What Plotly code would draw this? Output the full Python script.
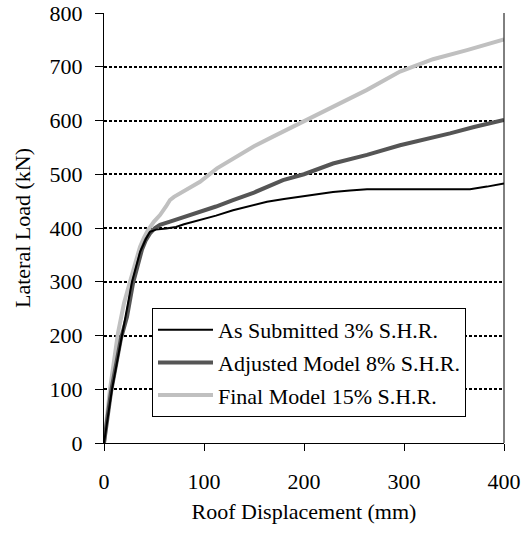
import plotly.graph_objects as go

# Pushover curves: roof displacement (mm) vs lateral load (kN)
submitted_x = [0, 8, 18, 28, 36, 42, 46, 52, 62, 72, 80, 96, 112, 129, 146, 163, 180, 196, 212, 229, 246, 263, 300, 330, 366, 383, 400]
submitted_y = [0, 100, 200, 300, 355, 380, 393, 397, 399, 402, 407, 415, 423, 433, 441, 449, 454, 458, 463, 467, 470, 472, 472, 472, 472, 477, 483]

adjusted_x = [0, 7, 17, 23, 29, 34, 38, 42, 46, 51, 56, 66, 76, 96, 112, 129, 150, 179, 200, 229, 263, 296, 330, 346, 370, 400]
adjusted_y = [0, 95, 195, 235, 297, 335, 360, 378, 390, 400, 406, 412, 418, 430, 440, 452, 466, 489, 500, 520, 536, 554, 568, 576, 588, 601]

final_x = [0, 6, 14, 20, 26, 31, 36, 40, 44, 50, 56, 62, 66, 70, 80, 96, 113, 133, 150, 169, 196, 229, 263, 296, 329, 363, 380, 400]
final_y = [0, 100, 205, 260, 300, 335, 365, 382, 396, 412, 424, 440, 452, 458, 468, 486, 511, 533, 552, 570, 595, 626, 657, 691, 714, 731, 740, 751]

series_names = ["As Submitted 3% S.H.R.", "Adjusted Model 8% S.H.R.", "Final Model 15% S.H.R."]
x_ticks = [0, 100, 200, 300, 400]
y_ticks = [0, 100, 200, 300, 400, 500, 600, 700, 800]

FONT = "Liberation Serif"
txt = dict(family=FONT, size=22, color="black")

fig = go.Figure()
fig.add_trace(go.Scatter(x=final_x, y=final_y, mode="lines", name=series_names[2],
                         line=dict(color="#c0c0c0", width=4), legendrank=3, legendgroup="c"))
fig.add_trace(go.Scatter(x=adjusted_x, y=adjusted_y, mode="lines", name=series_names[1],
                         line=dict(color="#555555", width=4), legendrank=2, legendgroup="b"))
fig.add_trace(go.Scatter(x=submitted_x, y=submitted_y, mode="lines", name=series_names[0],
                         line=dict(color="black", width=2), legendrank=1, legendgroup="a"))

fig.update_layout(
    template="none",
    width=526, height=538,
    margin=dict(l=104, r=22, t=13, b=95),
    paper_bgcolor="white", plot_bgcolor="white",
    font=txt,
    showlegend=True,
    legend=dict(x=0.12, y=0.314, xanchor="left", yanchor="top",
                bgcolor="white", bordercolor="black", borderwidth=1,
                tracegroupgap=1, itemwidth=55, entrywidth=320, entrywidthmode="pixels",
                font=txt),
    xaxis=dict(range=[0, 400], tickvals=x_ticks, showgrid=False, zeroline=False,
               showline=True, linecolor="black", linewidth=1,
               ticks="outside", ticklen=7, tickcolor="black", tickwidth=1,
               tickfont=txt, ticklabelstandoff=12,
               title=dict(text="Roof Displacement (mm)", font=txt, standoff=10)),
    yaxis=dict(range=[0, 800], tickvals=y_ticks, zeroline=False,
               showgrid=True, gridcolor="black", gridwidth=1.5, griddash="3px,2px",
               showline=True, linecolor="black", linewidth=1,
               ticks="outside", ticklen=8, tickcolor="black", tickwidth=1,
               tickfont=txt, ticklabelstandoff=8,
               title=dict(text="Lateral Load (kN)", font=txt, standoff=12)),
    shapes=[dict(type="line", xref="paper", yref="paper", x0=1, x1=1, y0=0, y1=1,
                 line=dict(color="black", width=1))],
)

fig.write_html("out.html")
